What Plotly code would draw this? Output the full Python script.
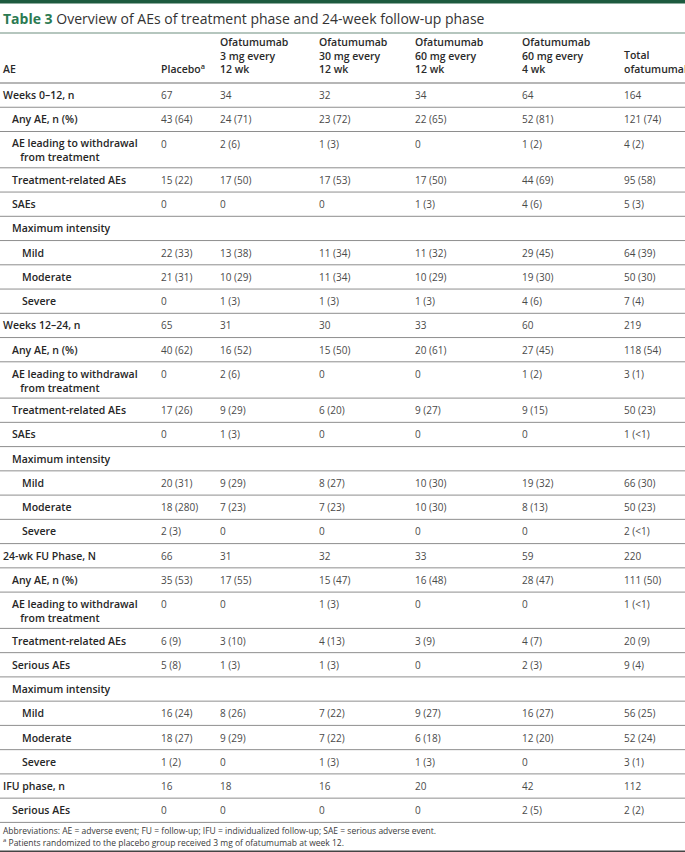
import plotly.graph_objects as go

# ---------------- data ----------------
title_bold = "Table 3"
title_text = "Overview of AEs of treatment phase and 24-week follow-up phase"

col_headers = [
    ["AE"],
    ["Placebo<sup>a</sup>"],
    ["Ofatumumab", "3 mg every", "12 wk"],
    ["Ofatumumab", "30 mg every", "12 wk"],
    ["Ofatumumab", "60 mg every", "12 wk"],
    ["Ofatumumab", "60 mg every", "4 wk"],
    ["Total", "ofatumumab"],
]

row_labels = [
    "Weeks 0–12, n", "Any AE, n (%)", "AE leading to withdrawal|from treatment",
    "Treatment-related AEs", "SAEs", "Maximum intensity", "Mild", "Moderate", "Severe",
    "Weeks 12–24, n", "Any AE, n (%)", "AE leading to withdrawal|from treatment",
    "Treatment-related AEs", "SAEs", "Maximum intensity", "Mild", "Moderate", "Severe",
    "24-wk FU Phase, N", "Any AE, n (%)", "AE leading to withdrawal|from treatment",
    "Treatment-related AEs", "Serious AEs", "Maximum intensity", "Mild", "Moderate", "Severe",
    "IFU phase, n", "Serious AEs",
]
row_levels = [0, 1, 1, 1, 1, 1, 2, 2, 2,
              0, 1, 1, 1, 1, 1, 2, 2, 2,
              0, 1, 1, 1, 1, 1, 2, 2, 2,
              0, 1]

placebo = ["67", "43 (64)", "0", "15 (22)", "0", "", "22 (33)", "21 (31)", "0",
           "65", "40 (62)", "0", "17 (26)", "0", "", "20 (31)", "18 (280)", "2 (3)",
           "66", "35 (53)", "0", "6 (9)", "5 (8)", "", "16 (24)", "18 (27)", "1 (2)",
           "16", "0"]
ofa_3mg_12wk = ["34", "24 (71)", "2 (6)", "17 (50)", "0", "", "13 (38)", "10 (29)", "1 (3)",
                "31", "16 (52)", "2 (6)", "9 (29)", "1 (3)", "", "9 (29)", "7 (23)", "0",
                "31", "17 (55)", "0", "3 (10)", "1 (3)", "", "8 (26)", "9 (29)", "0",
                "18", "0"]
ofa_30mg_12wk = ["32", "23 (72)", "1 (3)", "17 (53)", "0", "", "11 (34)", "11 (34)", "1 (3)",
                 "30", "15 (50)", "0", "6 (20)", "0", "", "8 (27)", "7 (23)", "0",
                 "32", "15 (47)", "1 (3)", "4 (13)", "1 (3)", "", "7 (22)", "7 (22)", "1 (3)",
                 "16", "0"]
ofa_60mg_12wk = ["34", "22 (65)", "0", "17 (50)", "1 (3)", "", "11 (32)", "10 (29)", "1 (3)",
                 "33", "20 (61)", "0", "9 (27)", "0", "", "10 (30)", "10 (30)", "0",
                 "33", "16 (48)", "0", "3 (9)", "0", "", "9 (27)", "6 (18)", "1 (3)",
                 "20", "0"]
ofa_60mg_4wk = ["64", "52 (81)", "1 (2)", "44 (69)", "4 (6)", "", "29 (45)", "19 (30)", "4 (6)",
                "60", "27 (45)", "1 (2)", "9 (15)", "0", "", "19 (32)", "8 (13)", "0",
                "59", "28 (47)", "0", "4 (7)", "2 (3)", "", "16 (27)", "12 (20)", "0",
                "42", "2 (5)"]
total_ofa = ["164", "121 (74)", "4 (2)", "95 (58)", "5 (3)", "", "64 (39)", "50 (30)", "7 (4)",
             "219", "118 (54)", "3 (1)", "50 (23)", "1 (<1)", "", "66 (30)", "50 (23)", "2 (<1)",
             "220", "111 (50)", "1 (<1)", "20 (9)", "9 (4)", "", "56 (25)", "52 (24)", "3 (1)",
             "112", "2 (2)"]

footnotes = [
    "Abbreviations: AE = adverse event; FU = follow-up; IFU = individualized follow-up; SAE = serious adverse event.",
    "<sup>a</sup> Patients randomized to the placebo group received 3 mg of ofatumumab at week 12.",
]

# ---------------- styling / layout ----------------
W, H = 685, 852
FONT = "Open Sans"
GREEN_BAR = "#1d5a3f"
GREEN_TXT = "#2b7a52"
LABEL_C = "#262626"
VAL_C = "#4a4a4a"
LINE_C = "#8e8e8e"

col_x = [1, 159, 218, 317, 413, 520, 622]
indent = {0: 1, 1: 10, 2: 20}

header_bottom = 83
single_h = 24.25
double_h = 36.3
LBL_SIZE = 10.5
VAL_SIZE = 10

value_cols = [placebo, ofa_3mg_12wk, ofa_30mg_12wk, ofa_60mg_12wk, ofa_60mg_4wk, total_ofa]

fig = go.Figure()
fig.add_trace(go.Scatter(x=[0, W], y=[0, H], mode="markers",
                         marker=dict(opacity=0, size=1), hoverinfo="skip", showlegend=False))

annotations = []
shapes = []

def txt(x, y, s, size=10, color=VAL_C, weight="normal", xanchor="left", yanchor="middle"):
    annotations.append(dict(x=x, y=y, xref="x", yref="y", text=s, showarrow=False,
                            xanchor=xanchor, yanchor=yanchor, align="left",
                            font=dict(family=FONT, size=size, color=color, weight=weight)))

def hline(y, color=LINE_C, width=1, x0=0, x1=W):
    shapes.append(dict(type="line", xref="x", yref="y", x0=x0, x1=x1, y0=y, y1=y,
                       line=dict(color=color, width=width)))

# top bar
shapes.append(dict(type="rect", xref="x", yref="y", x0=0, x1=W, y0=0, y1=3.5,
                   fillcolor=GREEN_BAR, line=dict(width=0)))
# title
annotations.append(dict(x=1, y=18, xref="x", yref="y", showarrow=False,
                        xanchor="left", yanchor="middle",
                        text=f"<b><span style='color:{GREEN_TXT}'>{title_bold}</span></b> {title_text}",
                        font=dict(family=FONT, size=14, color="#333333")))
hline(33, color="#9db3a8", width=1.5)

# header (bottom-aligned)
for ci, lines in enumerate(col_headers):
    txt(col_x[ci], 78, "<br>".join(lines), size=LBL_SIZE, color="#2a2a2a",
        weight=600, yanchor="bottom")
hline(header_bottom, color="#6f6f6f", width=1.2)

# body
top = header_bottom
for ri, lab in enumerate(row_labels):
    parts = lab.split("|")
    h = double_h if len(parts) > 1 else single_h
    y1 = top + single_h / 2
    x_l = indent[row_levels[ri]]
    if len(parts) == 1:
        txt(x_l, y1, parts[0], size=LBL_SIZE, color=LABEL_C, weight=600)
    else:
        txt(x_l, y1 + 0.65 * LBL_SIZE, parts[0] + "<br>   " + parts[1],
            size=LBL_SIZE, color=LABEL_C, weight=600)
    for vi, col in enumerate(value_cols):
        if col[ri]:
            txt(col_x[vi + 1], y1, col[ri], size=VAL_SIZE, color=VAL_C)
    top += h
    hline(top)

# footnotes
txt(1, top + 8.5, footnotes[0], size=8.5, color="#3a3a3a")
txt(1, top + 19.5, footnotes[1], size=8.5, color="#3a3a3a")
hline(H - 0.75, color="#444444", width=1.5)

fig.update_layout(
    width=W, height=H,
    margin=dict(l=0, r=0, t=0, b=0),
    paper_bgcolor="white", plot_bgcolor="white",
    xaxis=dict(range=[0, W], visible=False, fixedrange=True),
    yaxis=dict(range=[H, 0], visible=False, fixedrange=True),
    annotations=annotations, shapes=shapes,
)

fig.write_html("out.html",
               config={"displayModeBar": False},
               post_script="document.body.style.margin='0';document.body.style.padding='0';"
                           "document.body.style.overflow='hidden';")
